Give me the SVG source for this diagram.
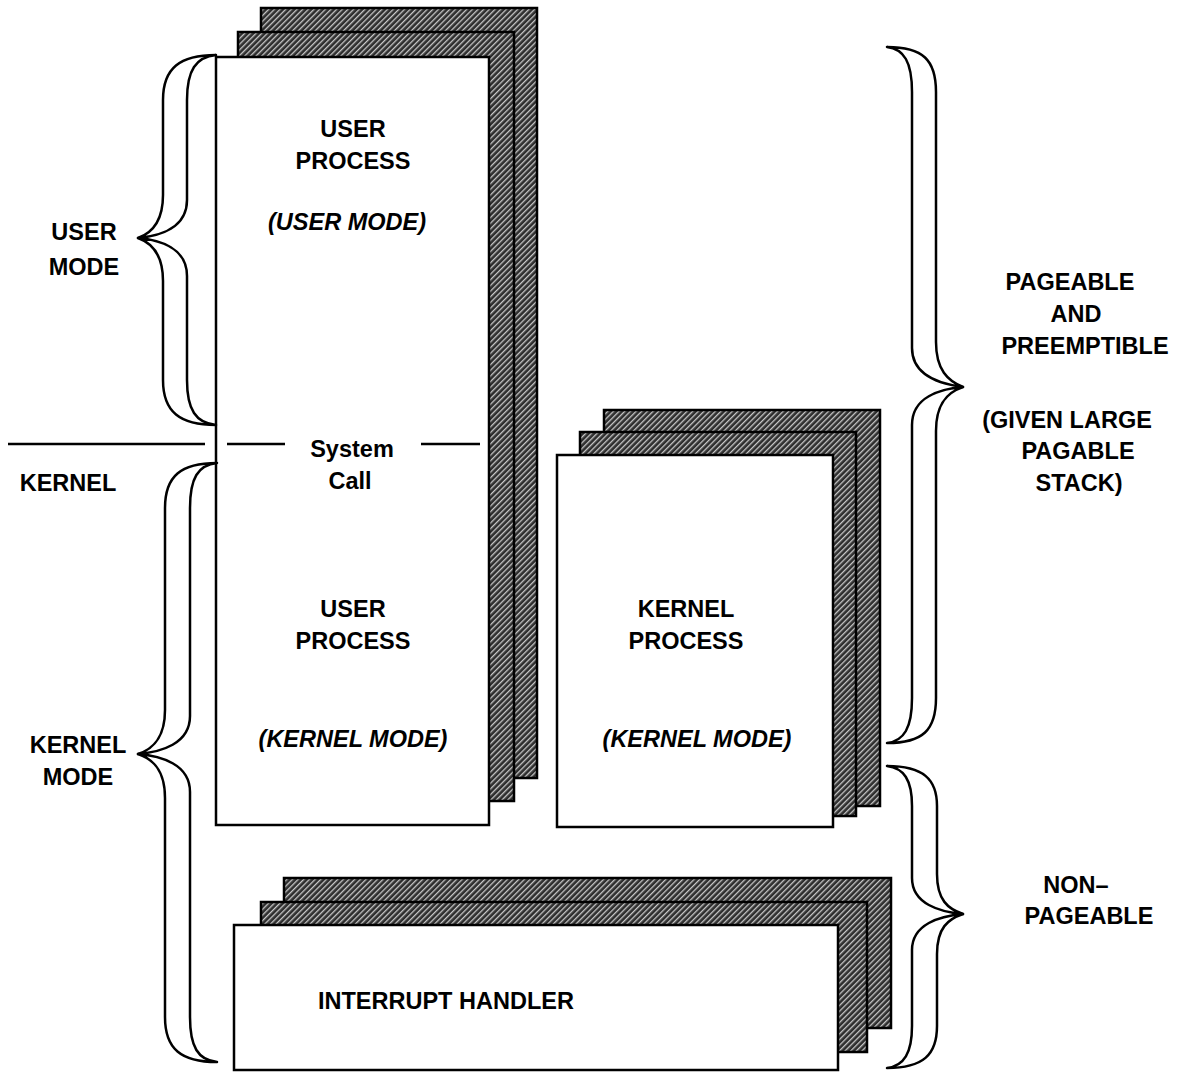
<svg xmlns="http://www.w3.org/2000/svg" width="1177" height="1074" viewBox="0 0 1177 1074">
<defs>
<pattern id="hatch" width="4" height="4" patternUnits="userSpaceOnUse" patternTransform="rotate(45)">
<rect width="4" height="4" fill="#2e2e2e"/>
<rect x="0" y="0" width="1.3" height="4" fill="#c8c8c8"/>
</pattern>
</defs>
<style>
.sh{fill:url(#hatch);stroke:#000;stroke-width:2.5}
.fr{fill:#fff;stroke:#000;stroke-width:2.5}
.br{fill:#fff;stroke:#000;stroke-width:2.5;stroke-linejoin:round}
.ln{stroke:#000;stroke-width:2.5;fill:none}
text{font-family:"Liberation Sans",Arial,sans-serif;font-weight:bold;font-size:23.5px;fill:#000;text-anchor:middle}
.it{font-style:italic}
.st{text-anchor:start}
</style>
<rect width="1177" height="1074" fill="#fff"/>

<g id="user-process">
<rect class="sh" x="261" y="8" width="276" height="770"/>
<rect class="sh" x="238" y="32" width="276" height="769"/>
<rect class="fr" x="216" y="57" width="273" height="768"/>
<text x="353" y="137">USER</text>
<text x="353" y="169">PROCESS</text>
<text class="it" x="347" y="230">(USER MODE)</text>
<text x="353" y="617">USER</text>
<text x="353" y="649">PROCESS</text>
<text class="it" x="353" y="747">(KERNEL MODE)</text>
</g>

<g id="kernel-process">
<rect class="sh" x="604" y="410" width="276" height="396"/>
<rect class="sh" x="580" y="432" width="276" height="384"/>
<rect class="fr" x="557" y="455" width="276" height="372"/>
<text x="686" y="617">KERNEL</text>
<text x="686" y="649">PROCESS</text>
<text class="it" x="697" y="747">(KERNEL MODE)</text>
</g>

<g id="interrupt-handler">
<rect class="sh" x="284" y="878" width="607" height="150"/>
<rect class="sh" x="261" y="902" width="606" height="150"/>
<rect class="fr" x="234" y="925" width="604" height="145"/>
<text class="st" x="318" y="1009">INTERRUPT HANDLER</text>
</g>

<g id="connectors">
<line class="ln" x1="8" y1="444" x2="205" y2="444"/>
<line class="ln" x1="227" y1="444" x2="285" y2="444"/>
<line class="ln" x1="421" y1="444" x2="480" y2="444"/>
<!-- user mode brace -->
<path class="br" d="M216,55 C180,55 163,68 163,100 L163,195 C163,222 152,233 138,238 C160,236 187,228 187,200 L187,100 C187,70 196,57 216,55 Z"/>
<path class="br" d="M138,238 C152,243 163,254 163,281 L163,380 C163,412 180,425 216,425 C196,423 187,410 187,380 L187,276 C187,248 160,240 138,238 Z"/>
<!-- kernel mode brace -->
<path class="br" d="M217,463 C181,463 165,476 165,508 L165,710 C165,738 153,749 138,754 C161,752 190,744 190,716 L190,508 C190,478 198,465 217,463 Z"/>
<path class="br" d="M138,754 C153,759 165,770 165,798 L165,1017 C165,1049 181,1062 217,1062 C198,1060 190,1047 190,1017 L190,792 C190,764 161,756 138,754 Z"/>
<!-- pageable brace -->
<path class="br" d="M887,47 C923,47 936,60 936,92 L936,342 C936,370 948,381 963,387 C940,384 912,376 912,348 L912,92 C912,62 904,49 887,47 Z"/>
<path class="br" d="M963,387 C948,392 936,403 936,431 L936,698 C936,730 923,743 887,743 C904,741 912,728 912,698 L912,425 C912,397 940,389 963,387 Z"/>
<!-- non-pageable brace -->
<path class="br" d="M887,766 C923,766 937,779 937,806 L937,874 C937,900 948,909 963,914 C940,912 912,904 912,878 L912,806 C912,780 904,768 887,766 Z"/>
<path class="br" d="M963,914 C948,919 937,928 937,954 L937,1026 C937,1055 923,1068 887,1068 C904,1066 912,1053 912,1026 L912,950 C912,924 940,916 963,914 Z"/>
</g>

<g id="labels">
<text x="352" y="457">System</text>
<text x="350" y="489">Call</text>
<text x="84" y="240">USER</text>
<text x="84" y="275">MODE</text>
<text x="68" y="491">KERNEL</text>
<text x="78" y="753">KERNEL</text>
<text x="78" y="785">MODE</text>
<text x="1070" y="290">PAGEABLE</text>
<text x="1076" y="322">AND</text>
<text x="1085" y="354">PREEMPTIBLE</text>
<text x="1067" y="428">(GIVEN LARGE</text>
<text x="1078" y="459">PAGABLE</text>
<text x="1079" y="491">STACK)</text>
<text x="1076" y="893">NON–</text>
<text x="1089" y="924">PAGEABLE</text>
</g>
</svg>
